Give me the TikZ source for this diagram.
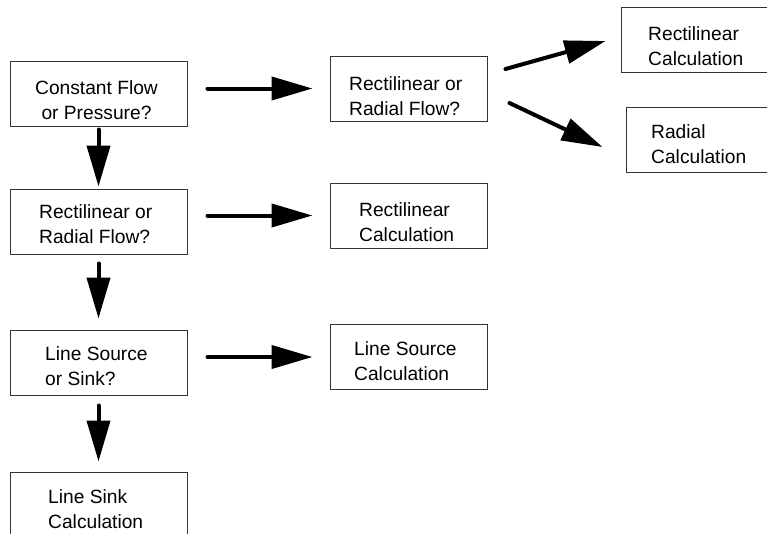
\documentclass[tikz,border=0pt]{standalone}
\usepackage{fontspec}
\setmainfont{Liberation Sans}
\usetikzlibrary{arrows.meta,calc}
\tikzset{
  box/.style={draw=black!80, line width=1pt, rectangle, inner sep=0pt, fill=none},
  lbox/.style={box, minimum width=177pt, minimum height=65pt},
  mbox/.style={box, minimum width=157pt, minimum height=65pt},
  rbox/.style={box, minimum width=160pt, minimum height=65pt},
  txt/.style={inner sep=0pt, align=left, anchor=west, font=\fontsize{19.2}{25}\selectfont},
  arr/.style={line width=4pt, line cap=round, -{Triangle[length=41pt,width=23pt]}}
}
\begin{document}
\begin{tikzpicture}[x=1pt,y=-1pt]
\useasboundingbox (0,0) rectangle (767,533);
\clip (0,0) rectangle (767,533);
\fill[white] (0,0) rectangle (767,533);
% boxes
\node[lbox] (b1) at (98.5,93.5) {};
\node[mbox] (b2) at (408.5,88.5) {};
\node[rbox] (b3) at (701,39.5) {};
\node[rbox] (b4) at (706,139.5) {};
\node[lbox] (b5) at (98.5,221.5) {};
\node[mbox] (b6) at (408.5,215.5) {};
\node[lbox] (b7) at (98.5,362.5) {};
\node[mbox] (b8) at (408.5,357) {};
\node[lbox] (b9) at (98.5,504.5) {};
% texts
\node[txt, align=center, anchor=center] (t1) at (96.5,100) {Constant Flow\\or Pressure?};
\node[txt] (t2) at (349,96) {Rectilinear or\\Radial Flow?};
\node[txt] (t3) at (648,46) {Rectilinear\\Calculation};
\node[txt] (t4) at (651,144.5) {Radial\\Calculation};
\node[txt] (t5) at (39,224.5) {Rectilinear or\\Radial Flow?};
\node[txt] (t6) at (359,222) {Rectilinear\\Calculation};
\node[txt] (t7) at (45,366) {Line Source\\or Sink?};
\node[txt] (t8) at (354,361.5) {Line Source\\Calculation};
\node[txt] (t9) at (48,509) {Line Sink\\Calculation};
% connectors
\draw[arr, shorten <=20pt, shorten >=17pt] (b1.east |- b2.west) -- (b2.west);
\draw[arr, shorten <=20pt, shorten >=17pt] (b5.east |- b6.west) -- (b6.west);
\draw[arr, shorten <=20pt, shorten >=17pt] (b7.east |- b8.west) -- (b8.west);
\draw[arr, shorten <=3pt, shorten >=2pt] (b1.south) -- (b5.north);
\draw[arr, shorten <=9pt, shorten >=11pt] (b5.south) -- (b7.north);
\draw[arr, shorten <=10pt, shorten >=10pt] (b7.south) -- (b9.north);
\draw[arr] ($(b2.east)+(18,-19.5)$) -- ($(b3.west)+(-15,1.5)$);
\draw[arr] ($(b2.east)+(22,14.5)$) -- ($(b4.west)+(-23,7.5)$);
\end{tikzpicture}
\end{document}
